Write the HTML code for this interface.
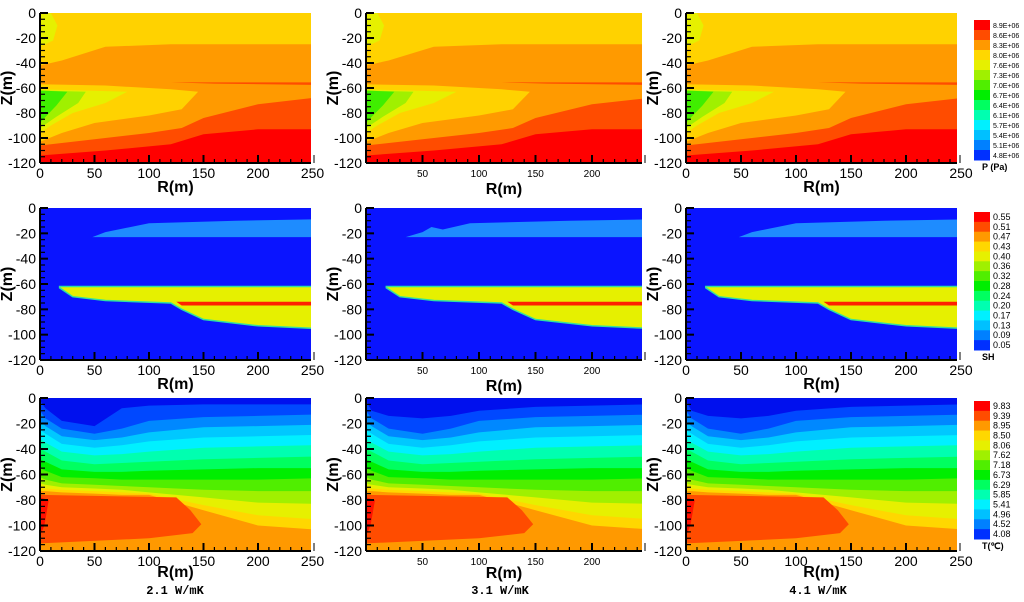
<!DOCTYPE html>
<html><head><meta charset="utf-8"><style>
html,body{margin:0;padding:0;background:#fff;}
svg{display:block;font-family:"Liberation Sans",Arial,sans-serif;}
</style></head><body>
<svg id="fig" width="1024" height="602" viewBox="0 0 1024 602" xmlns="http://www.w3.org/2000/svg"></svg>
<script>
// ---- data ----
const pLabels=['8.9E+06','8.6E+06','8.3E+06','8.0E+06','7.6E+06','7.3E+06','7.0E+06','6.7E+06','6.4E+06','6.1E+06','5.7E+06','5.4E+06','5.1E+06','4.8E+06'];
const shLabels=['0.55','0.51','0.47','0.43','0.40','0.36','0.32','0.28','0.24','0.20','0.17','0.13','0.09','0.05'];
const tLabels=['9.83','9.39','8.95','8.50','8.06','7.62','7.18','6.73','6.29','5.85','5.41','4.96','4.52','4.08'];
const legendColors=['#ff0000','#ff4c00','#ff9900','#ffd700','#e6f000','#a0f000','#50ee00','#00ee00','#00ff60','#00ffb0','#00f0ff','#00c0ff','#0080ff','#0030ff'];
const zTicks=[0,-20,-40,-60,-80,-100,-120];
const rTicks=[0,50,100,150,200,250];
const rTicksMid=[50,100,150,200];
const captions=['2.1  W/mK','3.1  W/mK','4.1  W/mK'];
// P field layers [r,z]
const pOrange=[[0,-42],[20,-38],[60,-27],[120,-25],[250,-25],[250,-120],[0,-120]];
const pYellowWedge=[[0,-57],[60,-58],[120,-61],[145,-63],[130,-77],[100,-82],[50,-88],[20,-96],[0,-103]];
const pLtYellow=[[0,-61],[80,-63],[60,-72],[30,-80],[10,-90],[0,-96]];
const pYGreen=[[0,-62],[42,-63],[35,-72],[15,-83],[0,-92]];
const pGreen=[[0,-62],[25,-63],[15,-74],[4,-84],[0,-88]];
const pTopBlob=[[0,0],[10,0],[16,-10],[12,-22],[0,-27]];
const pDarkOrange=[[0,-106],[50,-101],[100,-96],[130,-92],[150,-84],[200,-73],[250,-68],[250,-120],[0,-120]];
const pRed=[[0,-114],[60,-110],[120,-105],[150,-97],[200,-93],[250,-93],[250,-120],[0,-120]];
const pLine=[[120,-55.5],[250,-55.5],[250,-57.5],[160,-56.5]];
// SH field
const shBlueBand=[[48,-23],[60,-19],[100,-12],[180,-10],[250,-9],[250,-23]];
const shBlueBandMid=[[35,-23],[50,-19],[58,-15],[68,-17],[92,-12],[180,-10],[250,-9],[250,-23]];
const shYellow=[[18,-62],[250,-62],[250,-95],[200,-93],[150,-88],[130,-80],[120,-75],[60,-73],[30,-70],[18,-63]];
const shRed=[[125,-74],[250,-74],[250,-77],[130,-77]];
// T field bands
const tR=[0,5,20,50,75,100,150,200,250];
const tB1a=[-2,-8,-18,-22,-8,-6,-5,-5,-5];
const tB1b=[-2,-10,-14,-16,-14,-10,-7,-6,-5];
const tB2=[-10,-16,-24,-28,-24,-18,-15,-14,-13];
const tB3=[-18,-22,-30,-33,-31,-27,-23,-22,-21];
const tB4=[-25,-28,-36,-39,-37,-34,-31,-30,-29];
const tB5=[-32,-35,-42,-45,-44,-42,-39,-38,-37];
const tB6=[-40,-42,-49,-52,-51,-50,-48,-47,-46];
const tB7=[-48,-50,-56,-58,-58,-57,-56,-55,-55];
const tB8=[-55,-57,-62,-63,-64,-64,-64,-64,-63];
const tB9=[-62,-64,-67,-68,-69,-70,-72,-73,-73];
const tB10=[-67,-68,-70,-71,-72,-74,-78,-82,-83];
const tB11=[-70,-71,-72,-73,-74,-75,-84,-92,-95];
const tB12=[-73,-73,-74,-75,-76,-76,-88,-100,-103];
const tHot=[[0,-76],[125,-78],[138,-88],[148,-99],[140,-106],[100,-110],[0,-114]];
const tHotEdge=[[0,-78],[8,-80],[4,-100],[0,-108]];

const NS='http://www.w3.org/2000/svg';
const svg=document.getElementById('fig');
function mk(tag,attrs,parent){const e=document.createElementNS(NS,tag);for(const k in attrs)e.setAttribute(k,attrs[k]);(parent||svg).appendChild(e);return e;}

const cols=[{x0:40,k:1.09,xr:311},{x0:366,k:1.13,xr:642},{x0:686,k:1.10,xr:957}];
const rows=[{y0:13,y1:163},{y0:208,y1:360},{y0:398,y1:551}];

function scales(c,r){return {sx:v=>c.x0+v*c.k, sy:v=>r.y0+(-v)/120*(r.y1-r.y0)};}
function poly(g,s,pts,fill,name){
  const p=mk('polygon',{points:pts.map(q=>s.sx(q[0]).toFixed(1)+','+s.sy(q[1]).toFixed(1)).join(' '),fill:fill},g);
  
  
  return p;
}
function band(g,s,zs,fill,name){
  const pts=tR.map((r,i)=>[r,zs[i]]).concat([[250,-120],[0,-120]]);
  return poly(g,s,pts,fill,name);
}

function drawPanel(ri,ci){
  const c=cols[ci],r=rows[ri],s=scales(c,r);
  const g=mk('g',{});
  
  
  const cid='clip'+ri+ci;
  const cp=mk('clipPath',{id:cid},g);mk('rect',{x:c.x0,y:r.y0,width:c.xr-c.x0,height:r.y1-r.y0},cp);
  const f=mk('g',{'clip-path':'url(#'+cid+')'},g);
  
  
  if(ri===0){
    poly(f,s,[[0,0],[250,0],[250,-120],[0,-120]],'#ffd200','p-yellow');
    poly(f,s,pOrange,'#ff9a00','p-orange');
    poly(f,s,pYellowWedge,'#ffd200','p-yellow-wedge');
    poly(f,s,pLtYellow,'#e6f000','p-lightyellow');
    poly(f,s,pYGreen,'#a0f000','p-yellowgreen');
    poly(f,s,pGreen,'#40ee00','p-green');
    poly(f,s,pTopBlob,'#e6f000','p-top-blob');
    poly(f,s,pDarkOrange,'#ff4c00','p-darkorange');
    poly(f,s,pRed,'#ff0000','p-red');
    poly(f,s,pLine,'#ff4c00','p-thin-layer');
  } else if(ri===1){
    poly(f,s,[[0,0],[250,0],[250,-120],[0,-120]],'#0a14ff','sh-blue');
    poly(f,s,ci===1?shBlueBandMid:shBlueBand,'#1e8cff','sh-band');
    const y=poly(f,s,shYellow,'#e6f000','sh-yellow');y.setAttribute('stroke','#30e0a0');y.setAttribute('stroke-width','1.5');
    poly(f,s,shRed,'#ff2000','sh-red');
  } else {
    poly(f,s,[[0,0],[250,0],[250,-120],[0,-120]],'#0010ee','t-band-0');
    const bs=[ci===0?tB1a:tB1b,tB2,tB3,tB4,tB5,tB6,tB7,tB8,tB9,tB10,tB11,tB12];
    const bc=['#0048ff','#0088ff','#00c8ff','#00f0ff','#00ffb0','#00ff60','#00ee00','#50ee00','#a0f000','#e6f000','#ffd700','#ff9900'];
    bs.forEach((b,i)=>band(f,s,b,bc[i],'t-band-'+(i+1)));
    poly(f,s,tHot,'#ff4c00','t-hot-zone');
    poly(f,s,tHotEdge,'#ff1000','t-hot-edge');
  }
  // axes
  const ax=mk('g',{stroke:'#000',fill:'none'},g);
  
  
  mk('line',{x1:c.x0,y1:r.y0,x2:c.x0,y2:r.y1,'stroke-width':2},ax);
  mk('line',{x1:c.x0,y1:r.y1,x2:c.xr,y2:r.y1,'stroke-width':2},ax);
  for(let z=0;z>=-120;z-=5){const y=s.sy(z);const L=z%20===0?8:5;mk('line',{x1:c.x0,y1:y,x2:c.x0+L,y2:y,'stroke-width':z%20===0?2:1.2},ax);}
  for(let v=10;v<=250;v+=10){const x=s.sx(v);if(x>c.xr+1)break;const L=v%50===0?8:4;mk('line',{x1:x,y1:r.y1,x2:x,y2:r.y1-L,'stroke-width':v%50===0?2:1.2},ax);}
  mk('line',{x1:c.xr+3,y1:r.y1-8,x2:c.xr+3,y2:r.y1,'stroke-width':1},ax);
  zTicks.forEach(z=>{const t=mk('text',{x:c.x0-4,y:s.sy(z)+5,'font-size':14,'text-anchor':'end',fill:'#000'},g);t.textContent=z;
    });
  const mid=ci===1;
  (mid?rTicksMid:rTicks).forEach(v=>{const t=mk('text',{x:s.sx(v),y:r.y1+(mid?14:15),'font-size':mid?10:14,'text-anchor':'middle',fill:'#000'},g);t.textContent=v;
    });
  const off=ri===2?(mid?27:26):(mid?31:29);
  const xt=mk('text',{x:(c.x0+c.xr)/2,y:r.y1+off,'font-size':16,'font-weight':'bold','text-anchor':'middle',fill:'#000'},g);xt.textContent='R(m)';
  
  const cy=(r.y0+r.y1)/2;
  const yt=mk('text',{x:c.x0-28,y:cy,'font-size':16,'font-weight':'bold','text-anchor':'middle',fill:'#000',transform:'rotate(-90 '+(c.x0-28)+' '+cy+')'},g);yt.textContent='Z(m)';
  
}
for(let ri=0;ri<3;ri++)for(let ci=0;ci<3;ci++)drawPanel(ri,ci);

function legend(y0,y1,labels,title,name){
  const g=mk('g',{});
  
  
  const h=(y1-y0)/labels.length;
  labels.forEach((lb,i)=>{
    const rc=mk('rect',{x:974,y:y0+i*h,width:16,height:h+0.5,fill:legendColors[i]},g);
    
    const t=mk('text',{x:993,y:y0+i*h+h/2+3,'font-size':lb.length>5?7:9,fill:'#000'},g);t.textContent=lb;
    
  });
  const t=mk('text',{x:982,y:y1+10,'font-size':9,'font-weight':'bold',fill:'#000'},g);t.textContent=title;
  
}
legend(20,160,pLabels,'P (Pa)','legend-pressure');
legend(212,350,shLabels,'SH','legend-saturation');
legend(401,539,tLabels,'T(\u2103)','legend-temperature');

[175,500,818].forEach((x,i)=>{const t=mk('text',{x:x,y:594,'font-size':12,'font-weight':'bold','text-anchor':'middle',fill:'#000','font-family':'Liberation Mono, monospace'});t.textContent=captions[i];
  });
</script>
</body></html>
